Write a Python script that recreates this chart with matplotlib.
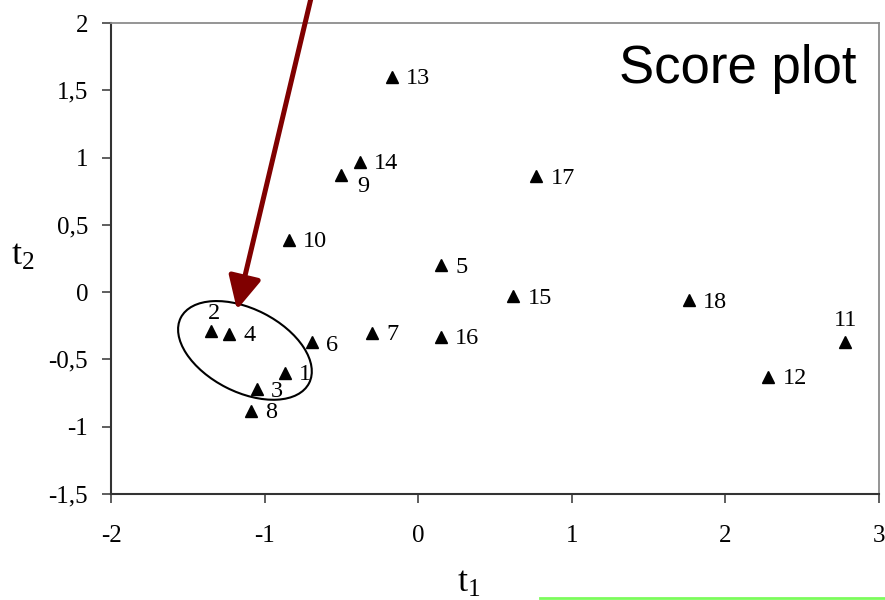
import matplotlib
matplotlib.use("Agg")
import matplotlib.pyplot as plt
import matplotlib.transforms as mtransforms
from matplotlib.patches import Ellipse
from matplotlib.lines import Line2D

plt.rcParams['font.family'] = ['Liberation Serif', 'DejaVu Serif']

# scores of the 18 samples on the first two components
sample_ids = ['1', '2', '3', '4', '5', '6', '7', '8', '9', '10',
              '11', '12', '13', '14', '15', '16', '17', '18']
t1 = [-0.87, -1.35, -1.05, -1.23, 0.15, -0.69, -0.30, -1.09, -0.50, -0.84,
      2.78, 2.28, -0.17, -0.38, 0.62, 0.15, 0.77, 1.76]
t2 = [-0.60, -0.29, -0.72, -0.31, 0.20, -0.37, -0.30, -0.88, 0.87, 0.39,
      -0.37, -0.63, 1.60, 0.97, -0.03, -0.33, 0.86, -0.06]

xticks = [-2, -1, 0, 1, 2, 3]
xtick_labels = ['-2', '-1', '0', '1', '2', '3']
yticks = [-1.5, -1, -0.5, 0, 0.5, 1, 1.5, 2]
ytick_labels = ['-1,5', '-1', '-0,5', '0', '0,5', '1', '1,5', '2']

# label placement (pixels from the marker), default is to the right
label_offsets = {'2': (3, 18), '11': (0, 21), '9': (16, -11), '6': (14, -4)}
default_offset = (14, -2)

fig = plt.figure(figsize=(8.85, 6), dpi=100)
ax = fig.add_axes([111 / 885, 1 - 494 / 600, 768 / 885, 471 / 600])

ax.plot(t1, t2, linestyle='none', marker='^', color='black', markersize=8)

for name, x, y in zip(sample_ids, t1, t2):
    dx, dy = label_offsets.get(name, default_offset)
    ha = 'center' if name in ('2', '11') else 'left'
    ax.annotate(name, (x, y), xytext=(dx, dy), textcoords='offset pixels',
                ha=ha, va='center', fontsize=17.5)

ax.set_xlim(-2, 3)
ax.set_ylim(-1.5, 2)
ax.set_xticks(xticks)
ax.set_xticklabels(xtick_labels)
ax.set_yticks(yticks)
ax.set_yticklabels(ytick_labels)
ax.tick_params(axis='both', direction='out', length=6.5, width=1.1,
               color='#333333', labelsize=18)
ax.tick_params(axis='x', pad=16)
ax.tick_params(axis='y', pad=10)

for side in ('left', 'bottom'):
    ax.spines[side].set_color('#333333')
    ax.spines[side].set_linewidth(1.5)
for side in ('top', 'right'):
    ax.spines[side].set_color('#8c8c8c')
    ax.spines[side].set_linewidth(1.3)

ax.text(0.971, 0.8726, 'Score plot', transform=ax.transAxes, ha='right',
        va='baseline', fontsize=38, family='Liberation Sans')

# axis titles
fig.text(23 / 885, 1 - 265 / 600, r'$\mathregular{t_2}$', fontsize=26,
         ha='center', va='baseline')
fig.text(469 / 885, 1 - 592 / 600, r'$\mathregular{t_1}$', fontsize=26,
         ha='center', va='baseline')

# ellipse around the group of samples 1-4
ell_trans = fig.dpi_scale_trans + mtransforms.ScaledTranslation(-1.128, -0.433, ax.transData)
ax.add_patch(Ellipse((0, 0), 1.44, 0.83, angle=-27, transform=ell_trans,
                     fill=False, edgecolor='black', linewidth=1.5, clip_on=False))

# arrow pointing to the group
ax.annotate('', xy=(-1.18, -0.13), xycoords='data',
            xytext=(312 / 885, 1.01), textcoords='figure fraction',
            arrowprops=dict(arrowstyle='-|>,head_length=0.4,head_width=0.2',
                            mutation_scale=50, color='#800000', lw=3.6,
                            shrinkA=0, shrinkB=0),
            annotation_clip=False)

fig.add_artist(Line2D([540 / 885, 1], [2 / 600, 2 / 600], transform=fig.transFigure,
                      color='#7CFC5C', linewidth=2))

fig.savefig('out.png', dpi=100)
